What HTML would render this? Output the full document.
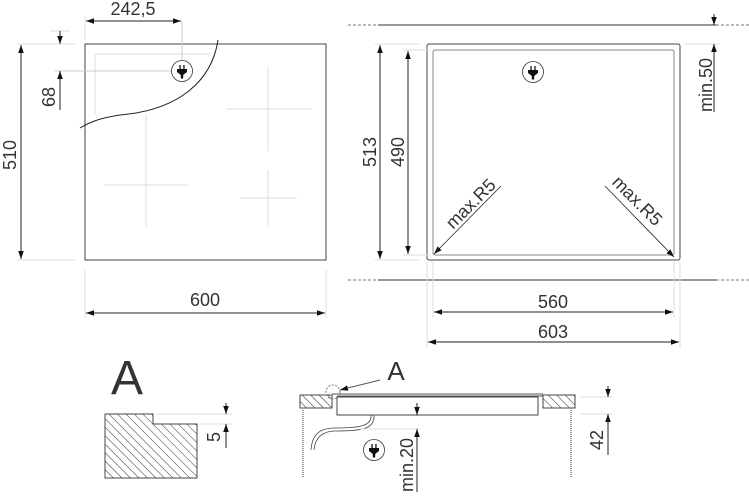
<!DOCTYPE html>
<html><head><meta charset="utf-8"><style>
html,body{margin:0;padding:0;background:#fff;width:749px;height:497px;overflow:hidden}
svg{display:block}
text{font-family:"Liberation Sans",sans-serif;fill:#333}
</style></head><body>
<svg width="749" height="497" viewBox="0 0 749 497" xmlns="http://www.w3.org/2000/svg">
<defs>
<marker id="a" viewBox="0 0 10 10" refX="10" refY="5" markerWidth="8" markerHeight="8" orient="auto-start-reverse" markerUnits="userSpaceOnUse"><path d="M0,1.5 L10,5 L0,8.5z" fill="#111"/></marker>
<pattern id="h" patternUnits="userSpaceOnUse" width="6" height="6" patternTransform="rotate(-45)"><rect width="6" height="6" fill="#fff"/><line x1="0" y1="0" x2="0" y2="6" stroke="#333" stroke-width="1"/></pattern>
<g id="plug"><circle r="10.5" fill="#fff" stroke="#333" stroke-width="0.8"/><rect x="-2.6" y="-6" width="1.3" height="4" fill="#111"/><rect x="1.3" y="-6" width="1.3" height="4" fill="#111"/><path d="M-5,-2 H5 V1 L1.2,4 V7.5 H-1.2 V4 L-5,1z" fill="#111"/></g>
</defs>
<g fill="none" stroke="#222" stroke-width="1">
<rect x="85" y="44" width="241" height="216" stroke="#444"/>
<path d="M95,54 H210 M95,54 V115" stroke="#ddd"/>
<g stroke="#ddd"><path d="M104,185 H188 M146,115 V227 M226,109 H311 M268,67 V151 M240,198 H297 M268,170 V227"/></g>
<path d="M218,40 C212,80 180,110 120,115 C100,118 90,122 80,128" stroke="#222"/>
<path d="M182,21 V62" stroke="#ccc"/>
<path d="M55,71 H172" stroke="#ccc"/>
<path d="M16,44 H76 M16,260 H76 M85,270 V318 M326,270 V318 M85,16 V40 M50,31 H70" stroke="#ddd"/>
<line x1="86" y1="21" x2="181" y2="21" marker-start="url(#a)" marker-end="url(#a)"/>
<line x1="21" y1="45" x2="21" y2="259" marker-start="url(#a)" marker-end="url(#a)"/>
<line x1="86" y1="313" x2="325" y2="313" marker-start="url(#a)" marker-end="url(#a)"/>
<line x1="60" y1="31" x2="60" y2="44" marker-end="url(#a)"/>
<line x1="60" y1="110" x2="60" y2="71" marker-end="url(#a)"/>
<path d="M348,25 H378" stroke="#777" stroke-dasharray="3,2"/><path d="M378,25 H716" stroke="#333"/><path d="M716,25 H749" stroke="#777" stroke-dasharray="3,2"/>
<path d="M348,280 H378" stroke="#777" stroke-dasharray="3,2"/><path d="M378,280 H716" stroke="#333"/><path d="M716,280 H749" stroke="#777" stroke-dasharray="3,2"/>
<rect x="427" y="44" width="253" height="216" rx="2" stroke="#444"/>
<rect x="433" y="50" width="241" height="205" rx="2" stroke="#888"/>
<path d="M375,44 H420 M375,260 H420 M403,50 H430 M403,255 H430 M427,262 V348 M680,262 V348 M433,262 V318 M674,262 V318 M684,44 H720" stroke="#ddd"/>
<line x1="380" y1="45" x2="380" y2="259" marker-start="url(#a)" marker-end="url(#a)"/>
<line x1="408" y1="51" x2="408" y2="254" marker-start="url(#a)" marker-end="url(#a)"/>
<line x1="434" y1="312" x2="673" y2="312" marker-start="url(#a)" marker-end="url(#a)"/>
<line x1="428" y1="342" x2="679" y2="342" marker-start="url(#a)" marker-end="url(#a)"/>
<line x1="714" y1="14" x2="714" y2="25" marker-end="url(#a)"/>
<line x1="714" y1="112" x2="714" y2="44" marker-end="url(#a)"/>
<line x1="501" y1="186" x2="434" y2="254" stroke-width="0.8" marker-end="url(#a)"/>
<line x1="605" y1="186" x2="674" y2="257" stroke-width="0.8" marker-end="url(#a)"/>
<path d="M105,414 H153 V424 H197 V478 H105z" fill="url(#h)" stroke="#444"/>
<path d="M156,414 H232 M200,424 H232" stroke="#ddd"/>
<line x1="226" y1="403" x2="226" y2="414" marker-end="url(#a)"/>
<line x1="226" y1="448" x2="226" y2="424" marker-end="url(#a)"/>
<rect x="300" y="395" width="32" height="13" fill="url(#h)" stroke="#444"/>
<rect x="543" y="395" width="32" height="13" fill="url(#h)" stroke="#444"/>
<path d="M332,394 H543 M337,396 H543" stroke="#555"/>
<rect x="337" y="397" width="201" height="18" stroke="#444"/>
<path d="M303,408 V478 M571,408 V478" stroke="#999" stroke-width="2" stroke-dasharray="1,1"/>
<path d="M371,415 C372,426 360,428 335,428 C318,428 312,436 311,450 M374,415 C375,429 362,431 336,431 C321,431 315,439 314,450" stroke="#444" stroke-width="0.8"/>
<circle cx="333" cy="392" r="7" stroke="#777" stroke-dasharray="2,1.5"/>
<line x1="380" y1="380" x2="340" y2="390" stroke="#555" marker-end="url(#a)"/>
<path d="M360,429 H420 M580,397 H612 M580,414 H612" stroke="#ddd"/>
<line x1="417" y1="403" x2="417" y2="415" marker-end="url(#a)"/>
<line x1="417" y1="492" x2="417" y2="429" marker-end="url(#a)"/>
<line x1="608" y1="386" x2="608" y2="397" marker-end="url(#a)"/>
<line x1="608" y1="455" x2="608" y2="414" marker-end="url(#a)"/>
</g>
<use href="#plug" x="182" y="71"/>
<use href="#plug" x="533" y="72"/>
<use href="#plug" x="374" y="450"/>
<g font-size="18">
<text x="133" y="15" text-anchor="middle">242,5</text>
<text x="205" y="306" text-anchor="middle">600</text>
<text x="553" y="308" text-anchor="middle">560</text>
<text x="553" y="338" text-anchor="middle">603</text>
<text transform="translate(16,155) rotate(-90)" text-anchor="middle">510</text>
<text transform="translate(55,97) rotate(-90)" text-anchor="middle">68</text>
<text transform="translate(376,152) rotate(-90)" text-anchor="middle">513</text>
<text transform="translate(404,152) rotate(-90)" text-anchor="middle">490</text>
<text transform="translate(712,85) rotate(-90)" text-anchor="middle">min.50</text>
<text transform="translate(475,208) rotate(-45)" text-anchor="middle">max.R5</text>
<text transform="translate(633,205) rotate(45)" text-anchor="middle">max.R5</text>
<text transform="translate(220,437) rotate(-90)" text-anchor="middle">5</text>
<text transform="translate(413,465) rotate(-90)" text-anchor="middle">min.20</text>
<text transform="translate(603,440) rotate(-90)" text-anchor="middle">42</text>
</g>
<text x="127" y="394" font-size="48" text-anchor="middle">A</text>
<text x="396" y="380" font-size="26" text-anchor="middle">A</text>
</svg>
</body></html>
